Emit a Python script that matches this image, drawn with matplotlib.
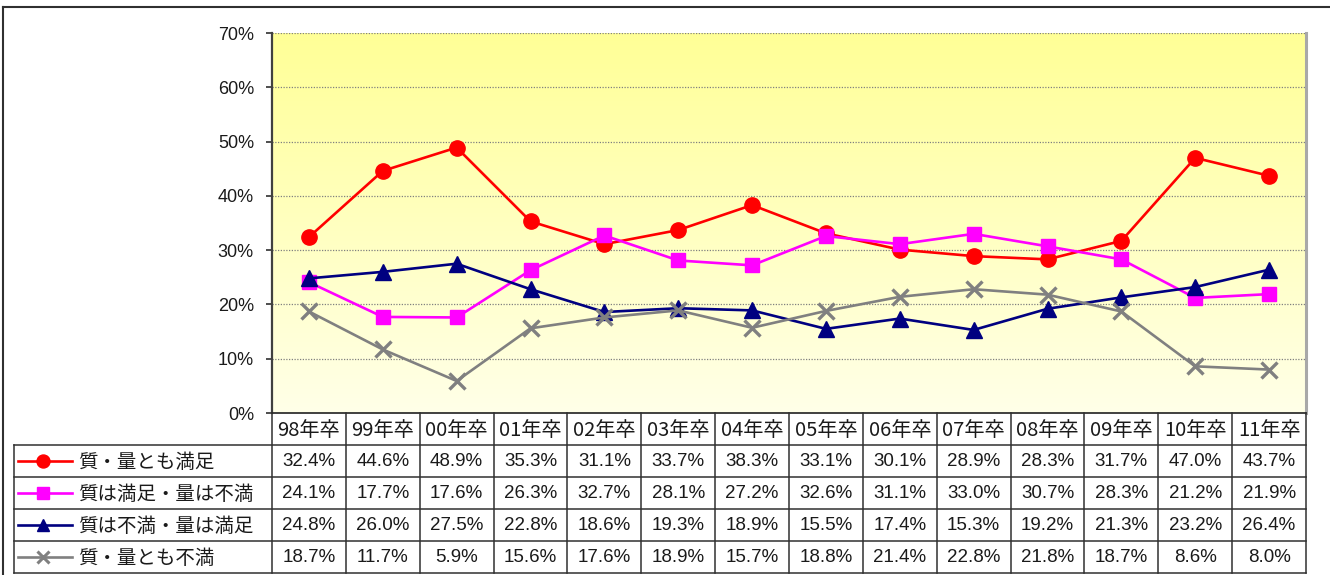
import matplotlib
matplotlib.use("Agg")
import matplotlib.pyplot as plt
import numpy as np
from matplotlib import font_manager
from matplotlib.colors import LinearSegmentedColormap
from matplotlib.lines import Line2D

# %% data
years = ["98年卒", "99年卒", "00年卒", "01年卒", "02年卒", "03年卒", "04年卒",
         "05年卒", "06年卒", "07年卒", "08年卒", "09年卒", "10年卒", "11年卒"]
series_names = ["質・量とも満足", "質は満足・量は不満", "質は不満・量は満足", "質・量とも不満"]
both_ok = [32.4, 44.6, 48.9, 35.3, 31.1, 33.7, 38.3, 33.1, 30.1, 28.9, 28.3, 31.7, 47.0, 43.7]
quality_ok = [24.1, 17.7, 17.6, 26.3, 32.7, 28.1, 27.2, 32.6, 31.1, 33.0, 30.7, 28.3, 21.2, 21.9]
quantity_ok = [24.8, 26.0, 27.5, 22.8, 18.6, 19.3, 18.9, 15.5, 17.4, 15.3, 19.2, 21.3, 23.2, 26.4]
both_ng = [18.7, 11.7, 5.9, 15.6, 17.6, 18.9, 15.7, 18.8, 21.4, 22.8, 21.8, 18.7, 8.6, 8.0]
y_ticks = [0, 10, 20, 30, 40, 50, 60, 70]

# %% styles
colors = ["#FF0000", "#FF00FF", "#000080", "#808080"]
markers = ["o", "s", "^", "x"]
msizes = [11, 10.5, 11, 11]

names = {f.name for f in font_manager.fontManager.ttflist}
num_font = next(n for n in ["Liberation Sans Narrow", "Liberation Sans", "DejaVu Sans"] if n in names)
jp_font = ["Noto Sans CJK JP", "DejaVu Sans"]
txt_col = "#1a1a1a"

W, H = 1330, 575
fig = plt.figure(figsize=(W / 100, H / 100), dpi=100)


def box(l, t, r, b):
    return [l / W, 1 - b / H, (r - l) / W, (b - t) / H]


# %% chart area
x_left, x_right, y_top, y_bot = 272, 1306, 33, 413
ax = fig.add_axes(box(x_left, y_top, x_right, y_bot))
ax.set_xlim(-0.5, len(years) - 0.5)
ax.set_ylim(0, 70)

bg = LinearSegmentedColormap.from_list("bg", [(1, 1, 0.91), (1, 1, 0.59)])
ax.imshow(np.linspace(0, 1, 256).reshape(-1, 1), extent=[-0.5, len(years) - 0.5, 0, 70],
          aspect="auto", origin="lower", cmap=bg, zorder=0)
for yv in y_ticks[1:]:
    ax.axhline(yv, color="#808080", lw=0.9, ls=(0, (1, 1.2)), zorder=1)

ax.spines["top"].set_visible(False)
ax.spines["left"].set_color("#404040")
ax.spines["left"].set_linewidth(1.6)
ax.spines["right"].set_color("#a8a8a8")
ax.spines["right"].set_linewidth(2.2)
ax.spines["bottom"].set_color("#202020")
ax.spines["bottom"].set_linewidth(1.2)

ax.set_xticks([])
ax.set_yticks(y_ticks)
ax.set_yticklabels([f"{v}%" for v in y_ticks], fontfamily=num_font, fontsize=13, color=txt_col)
ax.tick_params(axis="y", direction="out", length=4, width=1.3, color="#404040", pad=9)

x = np.arange(len(years))
all_series = [both_ok, quality_ok, quantity_ok, both_ng]
for k, vals in enumerate(all_series):
    ax.plot(x, vals, color=colors[k], lw=1.9, marker=markers[k], ms=msizes[k],
            mew=2.4 if markers[k] == "x" else 1, zorder=3 + k, clip_on=False)

# %% data table
row_top = [413, 445, 477, 509, 541, 573]
tab_left = 14
tab = fig.add_axes(box(tab_left, row_top[0], x_right, row_top[-1]))
tab.set_xlim(tab_left, x_right)
tab.set_ylim(row_top[-1], row_top[0])
tab.axis("off")
col_w = (x_right - x_left) / len(years)
col_edges = [x_left + i * col_w for i in range(len(years) + 1)]
lc = "#303030"
for yy in row_top[1:]:
    tab.add_line(Line2D([tab_left, x_right], [yy, yy], color=lc, lw=1.1, clip_on=False))
tab.add_line(Line2D([tab_left, tab_left], [row_top[1], row_top[-1]], color=lc, lw=1.1, clip_on=False))
for xe in col_edges:
    tab.add_line(Line2D([xe, xe], [row_top[0], row_top[-1]], color=lc, lw=1.1, clip_on=False))

for i, yr in enumerate(years):
    cx = x_left + (i + 0.5) * col_w
    tab.text(cx, (row_top[0] + row_top[1]) / 2 + 1, yr, ha="center", va="center",
             fontfamily=jp_font, fontsize=14.5, color=txt_col)
    for k, vals in enumerate(all_series):
        cy = (row_top[k + 1] + row_top[k + 2]) / 2 + 1
        tab.text(cx, cy, f"{vals[i]:.1f}%", ha="center", va="center",
                 fontfamily=num_font, fontsize=13.5, color=txt_col)

for k, name in enumerate(series_names):
    cy = (row_top[k + 1] + row_top[k + 2]) / 2
    tab.plot([18, 72], [cy, cy], color=colors[k], lw=1.9, clip_on=False)
    tab.plot([43], [cy], color=colors[k], marker=markers[k], ms=msizes[k] * 0.85,
             mew=2.2 if markers[k] == "x" else 1, clip_on=False)
    tab.text(78, cy + 1, name, ha="left", va="center", fontfamily=jp_font,
             fontsize=14, color=txt_col)

# %% outer frame
fig.add_artist(Line2D([3 / W, 1], [1 - 6.5 / H, 1 - 6.5 / H], color="#303030", lw=1.5))
fig.add_artist(Line2D([3 / W, 3 / W], [1 - 6.5 / H, 0], color="#303030", lw=1.5))

fig.savefig("out.png", dpi=100)
